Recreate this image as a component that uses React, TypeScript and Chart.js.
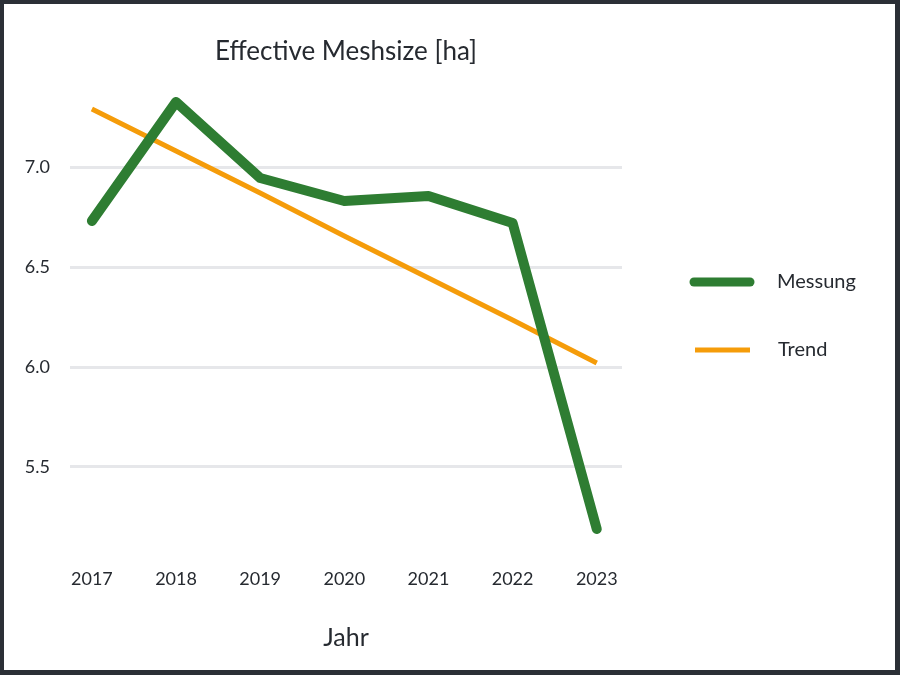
import React, { useEffect, useRef } from "react";
import { Chart, registerables } from "chart.js";

Chart.register(...registerables);

const years = [2017, 2018, 2019, 2020, 2021, 2022, 2023];
const messung = [6.73, 7.325, 6.945, 6.83, 6.855, 6.72, 5.19];
const trend = [7.29, 7.08, 6.87, 6.655, 6.445, 6.235, 6.02];
const yTicks = [5.5, 6.0, 6.5, 7.0];
const titleText = "Effective Meshsize [ha]";
const xTitle = "Jahr";
const seriesNames = ["Messung", "Trend"];

const GREEN = "#2e7d32";
const ORANGE = "#f59c0a";
const TEXT = "#262a30";
const FONT = "Lato, 'Noto Sans', sans-serif";

const W = 891;
const H = 666;

const overlay = {
  id: "overlay",
  afterDraw(chart: any) {
    const { ctx, chartArea } = chart;
    ctx.save();
    ctx.fillStyle = TEXT;
    ctx.font = `26px ${FONT}`;
    ctx.textAlign = "center";
    ctx.textBaseline = "middle";
    ctx.fillText(titleText, (chartArea.left + chartArea.right) / 2, 48);

    // legend
    ctx.lineCap = "round";
    ctx.strokeStyle = GREEN;
    ctx.lineWidth = 9;
    ctx.beginPath();
    ctx.moveTo(690, 278);
    ctx.lineTo(746, 278);
    ctx.stroke();
    ctx.lineCap = "butt";
    ctx.strokeStyle = ORANGE;
    ctx.lineWidth = 5;
    ctx.beginPath();
    ctx.moveTo(691, 346);
    ctx.lineTo(746, 346);
    ctx.stroke();
    ctx.font = `20px ${FONT}`;
    ctx.textAlign = "left";
    ctx.fillStyle = TEXT;
    ctx.fillText(seriesNames[0], 773, 278);
    ctx.fillText(seriesNames[1], 774, 346);
    ctx.restore();
  },
};

export default function App() {
  const ref = useRef<HTMLCanvasElement>(null);
  useEffect(() => {
    if (!ref.current) return;
    const chart = new Chart(ref.current, {
      type: "line",
      data: {
        datasets: [
          {
            label: seriesNames[0],
            data: years.map((x, i) => ({ x, y: messung[i] })),
            borderColor: GREEN,
            borderWidth: 10,
            borderCapStyle: "round",
            borderJoinStyle: "round",
            pointRadius: 0,
            tension: 0,
          },
          {
            label: seriesNames[1],
            data: years.map((x, i) => ({ x, y: trend[i] })),
            borderColor: ORANGE,
            borderWidth: 5,
            borderCapStyle: "butt",
            pointRadius: 0,
            tension: 0,
          },
        ],
      },
      options: {
        responsive: false,
        animation: false,
        layout: { padding: { top: 83, right: 273, left: 0, bottom: 0 } },
        plugins: {
          legend: { display: false },
          title: { display: false },
          tooltip: { enabled: false },
        },
        scales: {
          x: {
            type: "linear",
            min: 2016.74,
            max: 2023.3,
            border: { display: false },
            grid: { display: false, drawTicks: false },
            afterBuildTicks: (s: any) => {
              s.ticks = years.map((v) => ({ value: v }));
            },
            afterFit: (s: any) => {
              s.height = 123;
            },
            ticks: {
              padding: 21,
              color: TEXT,
              font: { family: FONT, size: 18 },
              callback: (v: any) => String(v),
              autoSkip: false,
              maxRotation: 0,
            },
            title: {
              display: true,
              text: xTitle,
              color: TEXT,
              font: { family: FONT, size: 25 },
              padding: { top: 0, bottom: 17 },
            },
          },
          y: {
            min: 5.1,
            max: 7.4,
            border: { display: false },
            grid: { color: "#e6e7ea", lineWidth: 3, drawTicks: false },
            afterBuildTicks: (s: any) => {
              s.ticks = yTicks.map((v) => ({ value: v }));
            },
            afterFit: (s: any) => {
              s.width = 66;
            },
            ticks: {
              padding: 20,
              color: TEXT,
              font: { family: FONT, size: 18 },
              callback: (v: any) => Number(v).toFixed(1),
            },
          },
        },
      },
      plugins: [overlay],
    });
    return () => chart.destroy();
  }, []);
  return (
    <div
      style={{
        position: "fixed",
        left: 0,
        top: 0,
        width: 900,
        height: 675,
        boxSizing: "border-box",
        borderStyle: "solid",
        borderColor: "#2b2f36",
        borderWidth: "4px 5px 5px 4px",
        background: "#fff",
      }}
    >
      <canvas ref={ref} width={W} height={H} style={{ display: "block" }} />
    </div>
  );
}
